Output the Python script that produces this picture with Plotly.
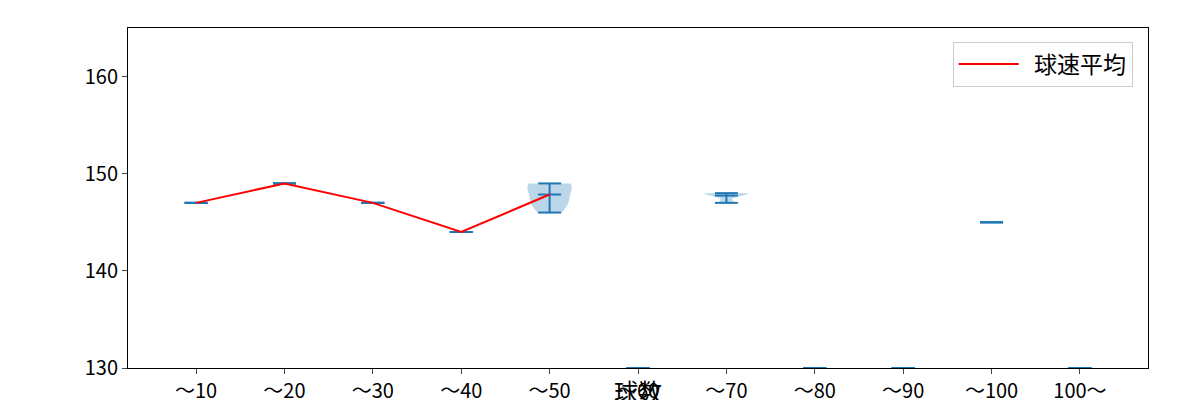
import plotly.graph_objects as go
import numpy as np

categories = ["〜10", "〜20", "〜30", "〜40", "〜50", "〜60", "〜70", "〜80", "〜90", "〜100", "100〜"]
speeds = [
    [147], [149], [147], [144],
    [146, 147, 147, 148, 149, 149, 149],
    [130],
    [147, 148, 148, 148],
    [130], [130], [145], [130],
]
mean_cats = 5

blue = "#1f77b4"
fig = go.Figure()
for i, vals in enumerate(speeds):
    x = i + 1
    if len(set(vals)) > 1:
        fig.add_trace(go.Violin(x=[x] * len(vals), y=vals, spanmode="hard", width=0.5,
                                fillcolor="rgba(31,119,180,0.3)", line=dict(width=0),
                                points=False, showlegend=False, hoverinfo="skip"))
    lo, hi, mu = min(vals), max(vals), float(np.mean(vals))
    xs, ys = [], []
    for yv in (lo, hi, mu):
        xs += [x - 0.13, x + 0.13, None]; ys += [yv, yv, None]
    xs += [x, x, None]; ys += [lo, hi, None]
    fig.add_trace(go.Scatter(x=xs, y=ys, mode="lines", line=dict(color=blue, width=2),
                             showlegend=False, hoverinfo="skip", cliponaxis=False))

means = [float(np.mean(v)) for v in speeds[:mean_cats]]
fig.add_trace(go.Scatter(x=list(range(1, mean_cats + 1)), y=means, mode="lines",
                         line=dict(color="red", width=2), name="  球速平均"))

fig.update_layout(
    width=1200, height=400, plot_bgcolor="white", paper_bgcolor="white",
    margin=dict(l=120, r=60, t=20, b=40),
    font=dict(family="Noto Sans CJK JP", size=20, color="black"),
    showlegend=True,
    legend=dict(x=0.985, y=0.96, xanchor="right", yanchor="top", bordercolor="#cccccc",
                borderwidth=1, font=dict(size=23), bgcolor="white", itemwidth=60),
    violinmode="overlay",
)
fig.update_xaxes(range=[0.23, 11.77], tickvals=list(range(1, 12)), ticktext=categories,
                 showline=True, mirror=True, linecolor="black", ticks="outside",
                 showgrid=False, zeroline=False, automargin=False,
                 title=dict(text="球数", standoff=12))
fig.update_yaxes(range=[130, 165], tickvals=[130, 140, 150, 160], showline=True, mirror=True,
                 linecolor="black", ticks="outside", showgrid=False, zeroline=False,
                 automargin=False)
fig.write_html("out.html")
